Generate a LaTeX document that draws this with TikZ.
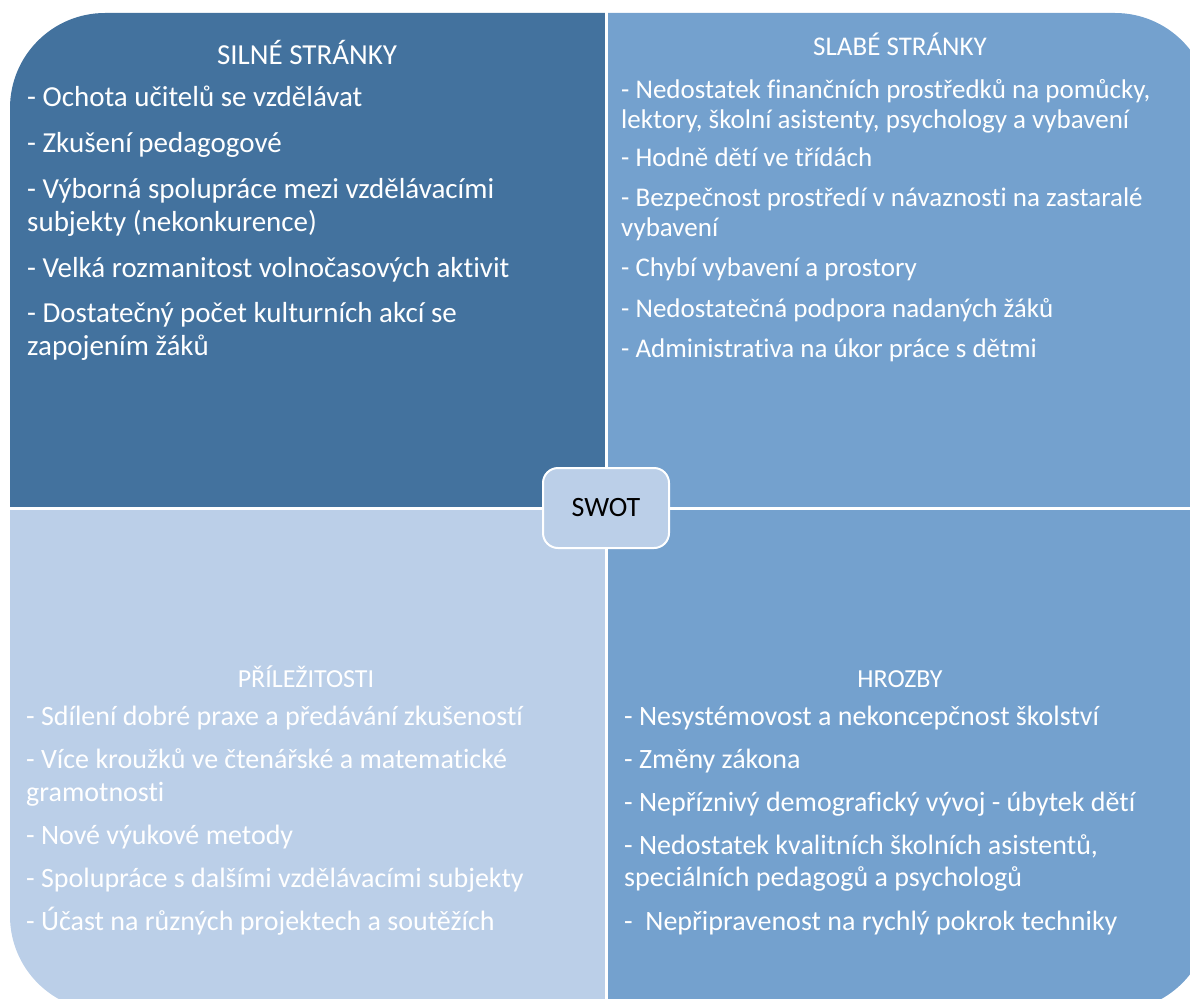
\documentclass[tikz,border=0pt]{standalone}
\usepackage{fontspec}
\setmainfont[Ligatures=NoCommon]{Carlito}
\definecolor{swotDark}{HTML}{43729E}
\definecolor{swotMid}{HTML}{74A1CE}
\definecolor{swotLight}{HTML}{BBCFE8}

\begin{document}
\begin{tikzpicture}[x=1pt,y=-1pt,
    quadline/.style={anchor=base west,inner sep=0pt,text=white},
    quadhead/.style={anchor=base,inner sep=0pt,text=white},
    sizeA/.style={font=\fontsize{29pt}{33pt}\selectfont},
    sizeB/.style={font=\fontsize{27pt}{30pt}\selectfont},
    sizeC/.style={font=\fontsize{28pt}{32pt}\selectfont},
    sizeT/.style={font=\fontsize{26pt}{30pt}\selectfont},
    centrebox/.style={draw=white,line width=2pt,fill=swotLight,rounded corners=15pt,
      minimum width=126pt,minimum height=80pt,inner sep=0pt,
      font=\fontsize{28pt}{31pt}\selectfont}]

  \useasboundingbox (0,0) rectangle (1190,998);

  % the four fields
  \begin{scope}
    \clip[rounded corners=95pt] (10,13) rectangle (1210,1011);
    \fill[swotDark]  (0,0)     rectangle (605,507);
    \fill[swotMid]   (608,0)   rectangle (1220,507);
    \fill[swotLight] (0,510)   rectangle (605,1020);
    \fill[swotMid]   (608,510) rectangle (1220,1020);
  \end{scope}

  % strengths
  \node[quadhead,sizeA] (tlHead) at (307,64) {SILNÉ STRÁNKY};
  \foreach \yy/\txt [count=\i] in {
      106/{- Ochota učitelů se vzdělávat},
      152/{- Zkušení pedagogové},
      198/{- Výborná spolupráce mezi vzdělávacími},
      231/{subjekty (nekonkurence)},
      277/{- Velká rozmanitost volnočasových aktivit},
      322/{- Dostatečný počet kulturních akcí se},
      355/{zapojením žáků}}
    \node[quadline,sizeA] (tl\i) at (27,\yy) {\txt};

  % weaknesses
  \node[quadhead,sizeB] (trHead) at (900,56) {SLABÉ STRÁNKY};
  \foreach \yy/\txt [count=\i] in {
      98/{- Nedostatek finančních prostředků na pomůcky,},
      128/{lektory, školní asistenty, psychology a vybavení},
      166/{- Hodně dětí ve třídách},
      206/{- Bezpečnost prostředí v návaznosti na zastaralé},
      236/{vybavení},
      276/{- Chybí vybavení a prostory},
      317/{- Nedostatečná podpora nadaných žáků},
      357/{- Administrativa na úkor práce s dětmi}}
    \node[quadline,sizeB] (tr\i) at (621,\yy) {\txt};

  % opportunities
  \node[quadhead,sizeT] (blHead) at (306,687) {PŘÍLEŽITOSTI};
  \foreach \yy/\txt [count=\i] in {
      725/{- Sdílení dobré praxe a předávání zkušeností},
      768/{- Více kroužků ve čtenářské a matematické},
      801/{gramotnosti},
      844/{- Nové výukové metody},
      887/{- Spolupráce s dalšími vzdělávacími subjekty},
      930/{- Účast na různých projektech a soutěžích}}
    \node[quadline,sizeC] (bl\i) at (26,\yy) {\txt};

  % threats
  \node[quadhead,sizeT] (brHead) at (900,687) {HROZBY};
  \foreach \yy/\txt [count=\i] in {
      725/{- Nesystémovost a nekoncepčnost školství},
      768/{- Změny zákona},
      811/{- Nepříznivý demografický vývoj - úbytek dětí},
      854/{- Nedostatek kvalitních školních asistentů,},
      886/{speciálních pedagogů a psychologů},
      930/{-\ \ Nepřipravenost na rychlý pokrok techniky}}
    \node[quadline,sizeC] (br\i) at (624,\yy) {\txt};

  % centre label
  \node[centrebox] (swot) at (606,508) {SWOT};
\end{tikzpicture}
\end{document}
